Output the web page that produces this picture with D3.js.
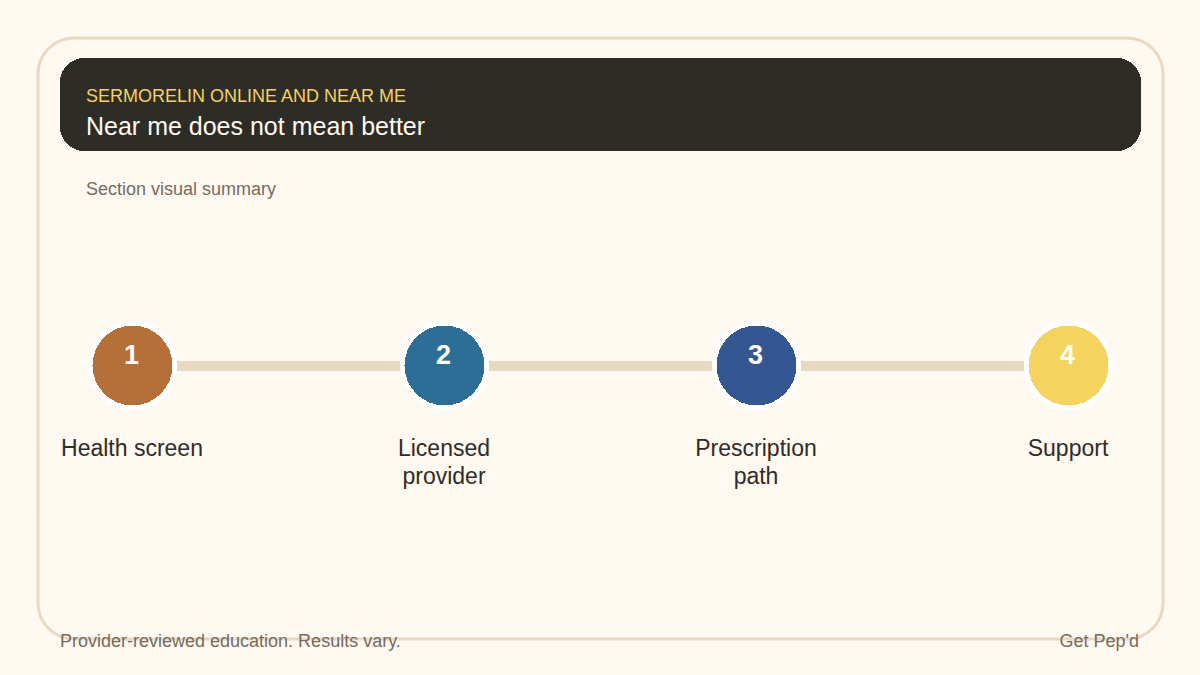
<!DOCTYPE html>
<html>
<head>
<meta charset="utf-8">
<script src="https://cdn.jsdelivr.net/npm/d3@7"></script>
<style>
  html, body { margin: 0; padding: 0; background: #fff9f2; }
  svg { display: block; }
  text { font-family: "Liberation Sans", Arial, sans-serif; text-rendering: optimizeSpeed; }
</style>
</head>
<body>
<div id="chart"></div>
<script>
// chart content
const kicker = "SERMORELIN ONLINE AND NEAR ME";
const title = "Near me does not mean better";
const subtitle = "Section visual summary";
const footLeft = "Provider-reviewed education. Results vary.";
const footRight = "Get Pep'd";

const steps = [1, 2, 3, 4];
const stepLabels = [["Health screen"], ["Licensed", "provider"], ["Prescription", "path"], ["Support"]];
const stepColors = ["#b56f38", "#2d6e96", "#345791", "#f4d35e"];

const width = 1200, height = 675;

const svg = d3.select("#chart").append("svg")
    .attr("width", width)
    .attr("height", height);

svg.append("rect")
    .attr("width", width).attr("height", height)
    .attr("fill", "#fff9f2");

// outer frame
svg.append("rect")
    .attr("x", 38).attr("y", 38)
    .attr("width", 1125).attr("height", 601)
    .attr("rx", 36)
    .attr("fill", "none")
    .attr("stroke", "#e8d9c3")
    .attr("stroke-width", 3);

// header band
svg.append("rect")
    .attr("x", 60).attr("y", 58)
    .attr("width", 1081).attr("height", 93)
    .attr("rx", 24)
    .attr("fill", "#2e2c27")
    .attr("shape-rendering", "crispEdges");

svg.append("text").attr("x", 86).attr("y", 102)
    .attr("font-size", 18).attr("fill", "#f4d35e").text(kicker);
svg.append("text").attr("x", 86).attr("y", 135)
    .attr("font-size", 25).attr("fill", "#fff9f2").text(title);
svg.append("text").attr("x", 86).attr("y", 195)
    .attr("font-size", 18).attr("fill", "#756b5f").text(subtitle);

// step positions
const x = d3.scalePoint()
    .domain(steps)
    .range([132.5, 1068.5]);
const cy = 365.5, r = 40, ring = 44.5;

// connectors between the steps
svg.selectAll(".connector")
    .data(d3.pairs(steps))
    .enter().append("line")
    .attr("class", "connector")
    .attr("x1", d => x(d[0]) + ring)
    .attr("x2", d => x(d[1]) - ring)
    .attr("y1", cy + 0.5).attr("y2", cy + 0.5)
    .attr("stroke", "#e8d9c3")
    .attr("stroke-width", 10);

const step = svg.selectAll(".step")
    .data(steps)
    .enter().append("g")
    .attr("class", "step")
    .attr("transform", d => `translate(${x(d)}, ${cy})`);

// white ring, then the aliased colour disc on top
step.append("circle")
    .attr("r", ring)
    .attr("fill", "#ffffff");

step.append("circle")
    .attr("r", r)
    .attr("fill", (d, i) => stepColors[i])
    .attr("shape-rendering", "crispEdges");

step.append("text")
    .attr("x", -1)
    .attr("y", -1.5)
    .attr("text-anchor", "middle")
    .attr("font-size", 27)
    .attr("font-weight", 700)
    .attr("fill", "#ffffff")
    .text(d => d);

step.append("text")
    .attr("text-anchor", "middle")
    .attr("font-size", 23)
    .attr("fill", "#2e2c27")
    .selectAll("tspan")
    .data((d, i) => stepLabels[i])
    .enter().append("tspan")
    .attr("x", -0.5)
    .attr("y", (d, i) => 90 + i * 28)
    .text(d => d);

// footer
svg.append("text").attr("x", 60).attr("y", 647)
    .attr("font-size", 18).attr("fill", "#756b5f").text(footLeft);
svg.append("text").attr("x", 1139).attr("y", 647)
    .attr("text-anchor", "end")
    .attr("font-size", 18).attr("fill", "#756b5f").text(footRight);
</script>
</body>
</html>
